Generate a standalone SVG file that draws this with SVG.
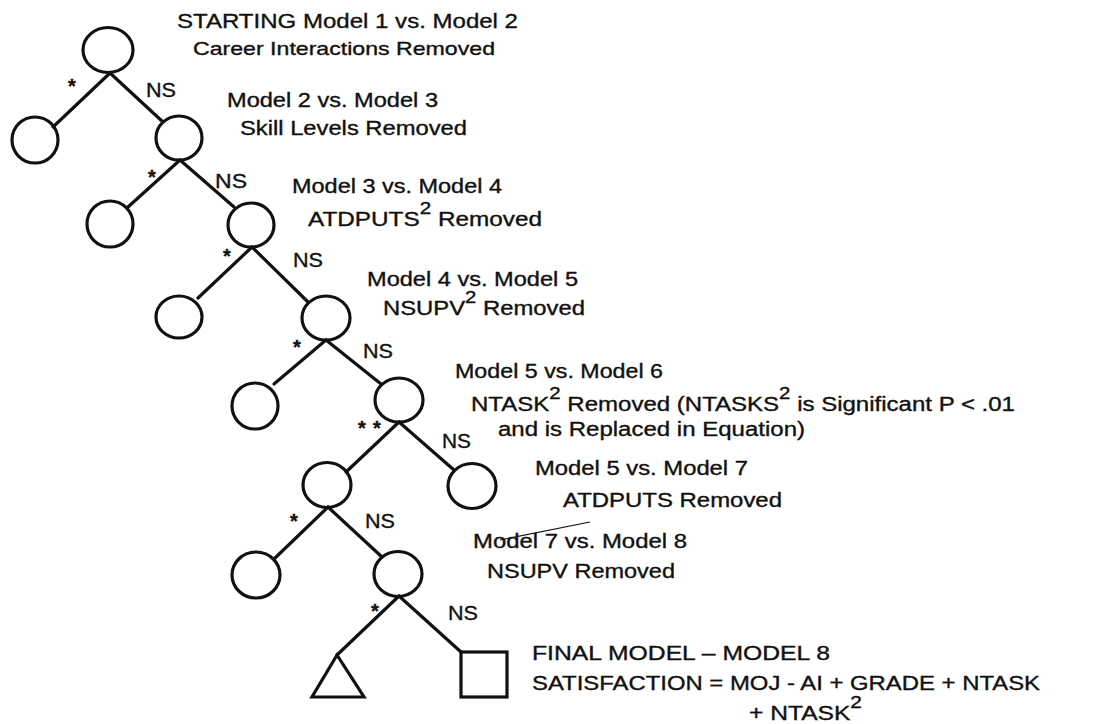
<svg xmlns="http://www.w3.org/2000/svg" width="1094" height="724" viewBox="0 0 1094 724">
<style>
.n{fill:none;stroke:#111;stroke-width:3.2}
.c line{stroke:#111;stroke-width:3.2;stroke-linecap:round}
text{font-family:"Liberation Sans",Arial,Helvetica,sans-serif;fill:#111;stroke:#111;stroke-width:0.35}
.t{font-size:20px}
.b{font-size:20px}
.s{font-size:17px}
.st{font-size:20px;text-anchor:middle;font-weight:bold}
</style>
<rect width="1094" height="724" fill="#fff"/>
<g id="connectors" class="c">
<line x1="110" y1="73" x2="53" y2="127"/>
<line x1="110" y1="73" x2="163" y2="122"/>
<line x1="180" y1="160" x2="128" y2="207"/>
<line x1="180" y1="160" x2="234" y2="207"/>
<line x1="252" y1="247" x2="198" y2="298"/>
<line x1="252" y1="247" x2="308" y2="302"/>
<line x1="326" y1="340" x2="274" y2="384"/>
<line x1="326" y1="340" x2="381" y2="384"/>
<line x1="399" y1="422" x2="346" y2="472"/>
<line x1="399" y1="422" x2="454" y2="470"/>
<line x1="328" y1="507" x2="274" y2="559"/>
<line x1="328" y1="507" x2="382" y2="557"/>
<line x1="399" y1="596" x2="337" y2="655"/>
<line x1="399" y1="596" x2="461" y2="652"/>
</g>
<g id="edge-labels">
<text class="st" x="72" y="93">*</text>
<text class="b" x="146" y="97" textLength="30" lengthAdjust="spacingAndGlyphs">NS</text>
<text class="st" x="152" y="184">*</text>
<text class="b" x="215" y="188" textLength="32" lengthAdjust="spacingAndGlyphs">NS</text>
<text class="st" x="227" y="263">*</text>
<text class="b" x="293" y="267" textLength="30" lengthAdjust="spacingAndGlyphs">NS</text>
<text class="st" x="297" y="354">*</text>
<text class="b" x="363" y="358" textLength="30" lengthAdjust="spacingAndGlyphs">NS</text>
<text class="st" x="362" y="435">*</text>
<text class="st" x="377" y="435">*</text>
<text class="b" x="442" y="448" textLength="29" lengthAdjust="spacingAndGlyphs">NS</text>
<text class="st" x="294" y="528">*</text>
<text class="b" x="365" y="528" textLength="30" lengthAdjust="spacingAndGlyphs">NS</text>
<text class="st" x="375" y="618">*</text>
<text class="b" x="448" y="620" textLength="30" lengthAdjust="spacingAndGlyphs">NS</text>
</g>
<g id="node-start"><ellipse class="n" cx="108" cy="50" rx="25" ry="22.5"/></g>
<g id="node-l1"><ellipse class="n" cx="35" cy="140" rx="23" ry="23"/></g>
<g id="node-m2"><ellipse class="n" cx="179" cy="138" rx="23" ry="22"/></g>
<g id="node-l2"><ellipse class="n" cx="110" cy="224" rx="23" ry="23"/></g>
<g id="node-m3"><ellipse class="n" cx="251" cy="225" rx="23" ry="22"/></g>
<g id="node-l3"><ellipse class="n" cx="179" cy="317" rx="23" ry="21"/></g>
<g id="node-m4"><ellipse class="n" cx="326" cy="318" rx="24" ry="22"/></g>
<g id="node-l4"><ellipse class="n" cx="255" cy="406" rx="23" ry="23"/></g>
<g id="node-m5"><ellipse class="n" cx="399" cy="400" rx="24" ry="22"/></g>
<g id="node-m6"><ellipse class="n" cx="327" cy="485" rx="24" ry="22.5"/></g>
<g id="node-r6"><ellipse class="n" cx="472" cy="486" rx="24" ry="22.5"/></g>
<g id="node-l7"><ellipse class="n" cx="256" cy="575" rx="24" ry="23"/></g>
<g id="node-m7"><ellipse class="n" cx="398" cy="574" rx="24" ry="22.5"/></g>
<g id="node-triangle"><polygon class="n" points="337,655 312,697 364,697" stroke-linejoin="miter"/></g>
<g id="node-final"><rect class="n" x="461" y="652" width="46" height="45"/></g>
<g id="labels">
<text class="t" x="177" y="28" style="font-size:21px" textLength="341" lengthAdjust="spacingAndGlyphs">STARTING Model 1 vs. Model 2</text>
<text class="t" x="193" y="55" style="font-size:19px" textLength="302" lengthAdjust="spacingAndGlyphs">Career Interactions Removed</text>
<text class="t" x="227" y="107" textLength="211" lengthAdjust="spacingAndGlyphs">Model 2 vs. Model 3</text>
<text class="t" x="240" y="135" textLength="227" lengthAdjust="spacingAndGlyphs">Skill Levels Removed</text>
<text class="t" x="292" y="193" textLength="210" lengthAdjust="spacingAndGlyphs">Model 3 vs. Model 4</text>
<text class="t" x="308" y="226" textLength="234" lengthAdjust="spacingAndGlyphs">ATDPUTS<tspan class="s" dy="-12">2</tspan><tspan dy="12"> Removed</tspan></text>
<text class="t" x="367" y="286" textLength="211" lengthAdjust="spacingAndGlyphs">Model 4 vs. Model 5</text>
<text class="t" x="383" y="315" textLength="202" lengthAdjust="spacingAndGlyphs">NSUPV<tspan class="s" dy="-12">2</tspan><tspan dy="12"> Removed</tspan></text>
<text class="t" x="455" y="378" textLength="208" lengthAdjust="spacingAndGlyphs">Model 5 vs. Model 6</text>
<text class="t" x="471" y="411" textLength="544" lengthAdjust="spacingAndGlyphs">NTASK<tspan class="s" dy="-12">2</tspan><tspan dy="12"> Removed (NTASKS</tspan><tspan class="s" dy="-12">2</tspan><tspan dy="12"> is Significant P &lt; .01</tspan></text>
<text class="t" x="498" y="436" textLength="307" lengthAdjust="spacingAndGlyphs">and is Replaced in Equation)</text>
<text class="t" x="535" y="475" textLength="213" lengthAdjust="spacingAndGlyphs">Model 5 vs. Model 7</text>
<text class="t" x="563" y="507" textLength="219" lengthAdjust="spacingAndGlyphs">ATDPUTS Removed</text>
<text class="t" x="473" y="548" textLength="214" lengthAdjust="spacingAndGlyphs">Model 7 vs. Model 8</text>
<text class="t" x="487" y="578" textLength="188" lengthAdjust="spacingAndGlyphs">NSUPV Removed</text>
<text class="t" x="532" y="660" textLength="298" lengthAdjust="spacingAndGlyphs">FINAL MODEL – MODEL 8</text>
<text class="t" x="532" y="690" textLength="508" lengthAdjust="spacingAndGlyphs">SATISFACTION = MOJ -  AI + GRADE + NTASK</text>
<text class="t" x="749" y="720" textLength="113" lengthAdjust="spacingAndGlyphs">+ NTASK<tspan class="s" dy="-12">2</tspan></text>
</g>
<line x1="500" y1="540" x2="590" y2="522" stroke="#111" stroke-width="1.2"/>
</svg>
